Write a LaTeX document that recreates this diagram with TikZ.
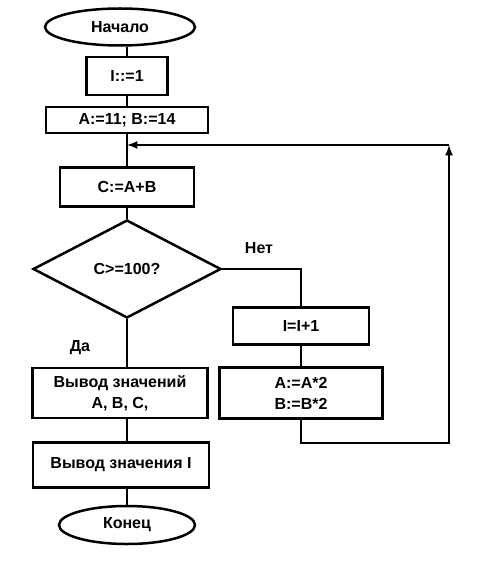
\documentclass[tikz,border=0pt]{standalone}
\usepackage{fontspec}
\setmainfont{Liberation Sans}
\usetikzlibrary{arrows,shapes,positioning}

\begin{document}
\begin{tikzpicture}[x=1pt,y=-1pt]
                \tikzstyle{every node}+=[inner sep=0pt, font=\bfseries\fontsize{16}{21}\selectfont, align=center]
                \tikzstyle{blk}=[draw, line width=2.5pt, rectangle]
                \tikzstyle{term}=[draw, line width=2.5pt, ellipse]
                \tikzstyle{cond}=[draw, line width=2.5pt, diamond, aspect=1.9]
                \tikzstyle{flow}=[line width=2.5pt]
                \useasboundingbox (0,0) rectangle (500,577);
                \node [term, minimum width=150pt, minimum height=37pt] (start) at (120,27) {Начало};
                \node [blk, minimum width=81pt, minimum height=38pt] (i1) at (127,76) {I::=1};
                \node [blk, minimum width=162pt, minimum height=26pt] (ab) at (127,120) {A:=11; B:=14};
                \node [blk, minimum width=134pt, minimum height=39pt] (c) at (127,187) {C:=A+B};
                \node [cond, minimum width=188pt, minimum height=98pt] (test) at (127,269) {C>=100?};
                \node [blk, minimum width=136pt, minimum height=37pt] (inc) at (301,326) {I=I+1};
                \node [blk, minimum width=163pt, minimum height=51pt] (dbl) at (301,393) {A:=A*2\\B:=B*2};
                \node [blk, minimum width=175pt, minimum height=50pt] (out1) at (120,393) {Вывод значений\\A, B, C,};
                \node [blk, minimum width=176pt, minimum height=45pt] (out2) at (121,465) {Вывод значения I};
                \node [term, minimum width=136pt, minimum height=38pt] (stop) at (127,525) {Конец};
                \node (no) at (259,248) {Нет};
                \node (yes) at (80,348) {Да};
                \coordinate (join) at (127,145);
                \coordinate (corner) at (449,145);
                \coordinate (low) at (449,443);
                \draw [flow] (start.south -| i1.north) -- (i1.north);
                \draw [flow] (i1.south) -- (ab.north);
                \draw [flow] (ab.south) -- (c.north);
                \draw [flow] (c.south) -- (test.north);
                \draw [flow] (test.south) -- (out1.north -| test.south);
                \draw [flow] (out1.south -| test.south) -- (out2.north -| test.south);
                \draw [flow] (out2.south -| stop.north) -- (stop.north);
                \draw [flow] (test.east) -- (test.east -| inc.north) -- (inc.north);
                \draw [flow] (inc.south) -- (dbl.north);
                \draw [flow, ->, >=latex] (dbl.south) -- (dbl.south |- low) -- (low) -- (corner);
                \draw [flow, ->, >=latex] (corner) -- (join);
\end{tikzpicture}
\end{document}
